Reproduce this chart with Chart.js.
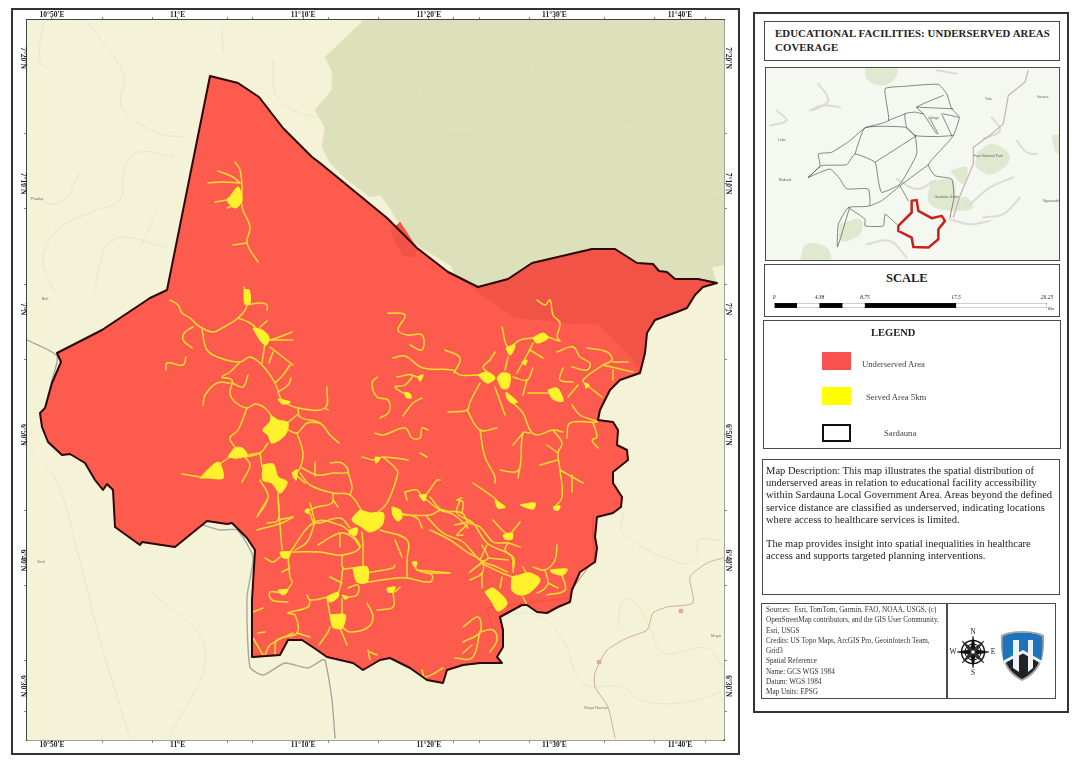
<!DOCTYPE html>
<html lang="en">

<head>
    <meta charset="UTF-8">
    <title>Educational Facilities: Underserved Areas Coverage</title>
    <script src="https://cdn.jsdelivr.net/npm/chart.js"></script>
    <style>
        html, body { margin: 0; padding: 0; background: #fff; }
        body { width: 1080px; height: 763px; position: relative; overflow: hidden; font-family: "Liberation Serif", serif; color: #222; }
        .box { position: absolute; box-sizing: border-box; border: 1.5px solid #4a4a4a; background: #fff; }
        .abs { position: absolute; white-space: nowrap; }
        canvas { position: absolute; }
    </style>
</head>

<body>
    <!-- map frame and side panel -->
    <div class="box" style="left:11px;top:8px;width:729px;height:747px;border:2px solid #333"></div>
    <div class="box" style="left:753px;top:12px;width:316px;height:701px;border:2px solid #333"></div>
    <canvas id="mapa" style="left:0;top:0;width:751px;height:763px"></canvas>

    <div class="box" style="left:764px;top:21px;width:296px;height:40px"></div>
    <div class="abs" style="left:775px;top:27px;font-weight:bold;font-size:10.8px;line-height:13.5px;letter-spacing:.1px">EDUCATIONAL FACILITIES: UNDERSERVED AREAS<br>COVERAGE</div>

    <div class="box" style="left:765px;top:67px;width:295px;height:194px;background:#f5f7f1"></div>
    <canvas id="inset" style="left:766px;top:68px;width:293px;height:192px"></canvas>

    <div class="box" style="left:764px;top:264px;width:296px;height:53px"></div>
    <div class="abs" style="left:886px;top:271px;font-weight:bold;font-size:12.5px">SCALE</div>
    <canvas id="escala" style="left:766px;top:294px;width:292px;height:17px"></canvas>
    <div class="abs" style="left:1048px;top:306px;font-style:italic;font-size:4.5px">Km</div>

    <!-- legend -->
    <div class="box" style="left:763px;top:320px;width:298px;height:129px"></div>
    <div class="abs" style="left:871px;top:327px;font-weight:bold;font-size:10.5px">LEGEND</div>
    <div class="abs" style="left:822px;top:352px;width:29px;height:18px;background:#fb5050"></div>
    <div class="abs" style="left:862px;top:359px;font-size:8.7px;color:#444">Underserved Area</div>
    <div class="abs" style="left:822px;top:387px;width:29px;height:18px;background:#ffff00"></div>
    <div class="abs" style="left:866px;top:392px;font-size:8.7px;color:#444">Served Area 5km</div>
    <div class="abs" style="left:822px;top:424px;width:29px;height:18px;box-sizing:border-box;border:2px solid #111;background:#fff"></div>
    <div class="abs" style="left:884px;top:428px;font-size:8.7px;color:#444">Sardauna</div>

    <!-- description -->
    <div class="box" style="left:762px;top:459px;width:298px;height:136px"></div>
    <div class="abs" style="left:766px;top:465px;font-size:10.55px;line-height:12.2px">Map Description: This map illustrates the spatial distribution of<br>underserved areas in relation to educational facility accessibility<br>within Sardauna Local Government Area. Areas beyond the defined<br>service distance are classified as underserved, indicating locations<br>where access to healthcare services is limited.<br><br>The map provides insight into spatial inequalities in healthcare<br>access and supports targeted planning interventions.</div>

    <!-- sources and logos -->
    <div class="box" style="left:761px;top:603px;width:295px;height:96px"></div>
    <div class="abs" style="left:946px;top:603px;width:1.5px;height:96px;background:#4a4a4a"></div>
    <div class="abs" style="left:766px;top:605px;font-size:7.2px;line-height:10.25px;color:#333">Sources:&nbsp; Esri, TomTom, Garmin, FAO, NOAA, USGS, (c)<br>OpenStreetMap contributors, and the GIS User Community,<br>Esri, USGS<br>Credits: US Topo Maps, ArcGIS Pro, Geoinfotech Team,<br>Grid3<br>Spatial Reference<br>Name: GCS WGS 1984<br>Datum: WGS 1984<br>Map Units: EPSG</div>

    <svg class="abs" style="left:948px;top:626px" width="50" height="52" viewBox="0 0 50 52">
        <g fill="#111" stroke="#111" stroke-width=".5">
            <circle cx="25" cy="26" r="11.500" fill="none" stroke-width="1.4"/>
            <circle cx="25" cy="26" r="8" fill="none" stroke-width="1"/>
            <path d="M25 10L27.500 23.500L41 26L27.500 28.500L25 42L22.500 28.500L9 26L22.500 23.500Z"/>
            <path d="M14 15L25 23L36 15L28 26L36 37L25 29L14 37L22 26Z" fill="#333"/>
            <circle cx="25" cy="26" r="2" fill="#fff"/>
        </g>
        <g font-family="Liberation Serif" font-size="7.5" fill="#222" text-anchor="middle">
            <text x="25" y="8">N</text>
            <text x="25" y="49">S</text>
            <text x="5" y="28">W</text>
            <text x="45" y="28">E</text>
        </g>
    </svg>
    <svg class="abs" style="left:1000px;top:630px" width="45" height="52" viewBox="0 0 45 52">
        <path d="M22 1C30 1 38 2 44 5C45 25 42 42 22 51C3 42 0 25 1 5C7 2 14 1 22 1Z" fill="#9fa6aa"/>
        <path d="M22 3C30 3 37 4 42 7C43 25 40 40 22 49C5 40 2 25 3 7C8 4 15 3 22 3Z" fill="#1f2326"/>
        <path d="M22 3C30 3 37 4 42 7C42.500 15 42 24 41 32L23 22L3.500 32C2.500 24 2.500 15 3 7C8 4 15 3 22 3Z" fill="#1b74bc"/>
        <path d="M23 20L41.500 30.500L41 33.500L23 23.500L4 33.500L3.500 30.500Z" fill="#eef2f4"/>
        <path d="M13 10H19V42L13 38ZM28 10H33V38L28 42Z" fill="#eef2f4"/>
    </svg>

    <script>
        // Positions in a digitising grid, then turned into arc minutes
        const minutosLon = (g) => 50 + (g - 52) / 12.56;   // minutes east of 10 deg E
        const minutosLat = (g) => 80 - (g - 58) / 12.56;   // minutes north of 6 deg N

        // Graticule
        const lonMajor = [50, 60, 70, 80, 90, 100];
        const lonLabels = ["10°50'E", "11°E", "11°10'E", "11°20'E", "11°30'E", "11°40'E"];
        const lonMinor = [54, 58, 64, 66, 72, 76, 82, 84, 88, 94, 98, 102];
        const latMajor = [80, 70, 60, 50, 40, 30];
        const latLabels = ["7°20'N", "7°10'N", "7°N", "6°50'N", "6°40'N", "6°30'N"];
        const latMinor = [74, 68, 62, 56, 44, 38, 32, 28];

        // Sardauna outline
        const sardauna = [210,76, 238,83, 259,97, 283,128, 312,157, 320,163, 387,218, 417,248, 448,272, 478,287, 508,279, 532,263, 592,249, 615,249, 637,263, 653,264, 659,271, 667,272, 675,279, 698,279, 717,283, 703,287, 695,295, 687,308, 677,312, 655,320, 647,333, 645,353, 640,373, 620,380, 610,390, 600,410, 598,420, 613,422, 618,430, 617,445, 627,450, 628,460, 613,472, 613,483, 622,497, 621,507, 613,513, 597,517, 595,537, 597,548, 595,562, 580,572, 572,590, 570,602, 558,607, 547,613, 537,612, 527,605, 522,605, 500,617, 503,630, 503,647, 497,657, 502,663, 480,663, 463,665, 447,670, 443,683, 427,680, 410,668, 390,658, 380,660, 363,670, 353,663, 327,657, 317,650, 302,640, 288,640, 280,655, 253,657, 252,600, 255,550, 247,538, 232,523, 227,524, 207,521, 175,547, 142,542, 140,545, 115,527, 113,490, 107,484, 103,490, 95,480, 85,463, 70,454, 62,455, 48,442, 42,427, 40,413, 45,408, 52,383, 61,362, 57,353, 102,330, 150,298, 167,290];

        // Basemap layers
        const forest = [362,10, 362,22, 325,57, 333,73, 332,90, 315,110, 325,128, 322,147, 330,163, 345,178, 370,197, 380,195, 388,205, 395,217, 417,245, 440,259, 451,266, 455,275, 478,287, 508,279, 532,263, 592,249, 615,249, 637,263, 653,264, 659,271, 667,272, 675,279, 698,279, 717,283, 715,278, 712,267, 723,265, 730,262, 730,10];
        const forestOverlap = [[450,272, 478,287, 508,279, 532,263, 592,249, 615,249, 637,263, 653,264, 659,271, 667,272, 675,279, 698,279, 717,283, 703,287, 695,295, 687,308, 677,312, 655,320, 647,333, 645,353, 640,373, 632,358, 620,345, 597,323, 567,323, 513,317], [390,232, 400,222, 417,248, 414,258, 402,255]];
        const innerEdge = [593,517, 592,530, 595,558, 570,592, 567,598, 527,603, 487,608, 492,627];
        const rivers = [
            [88,23, 123,73, 122,107, 157,133, 183,137], [43,23, 40,60, 50,70], [222,27, 223,53], [273,60, 277,97, 300,113, 317,117],
            [173,157, 140,152, 125,167, 120,200, 97,210, 57,230, 43,260, 55,293], [80,173, 60,203, 30,197], [167,247, 113,240, 93,293], [156,213, 140,247],
            [30,450, 57,483, 77,550, 100,640, 130,738], [623,513, 623,533, 680,563, 697,557, 698,540, 720,540],
            [503,615, 537,615, 563,640, 583,683, 623,687, 640,700, 680,703, 720,693], [618,627, 622,602, 633,600, 650,628, 663,653, 707,648, 723,667],
            [170,738, 205,650, 150,590]
        ];
        const forestRivers = [[540,20, 575,55, 600,110, 650,130, 680,190, 724,200], [530,60, 520,130, 560,170, 565,230], [400,60, 330,110], [440,20, 420,60, 440,130, 480,140, 480,200, 455,240, 420,250]];
        const greyRoads = [[27,340, 57,356, 52,380, 45,408], [203,525, 220,530, 237,530, 253,557, 247,597, 250,667, 263,675, 285,663, 308,668, 322,660, 325,660, 332,700, 335,738]];
        const brownRoad = [615,738, 608,707, 595,687, 595,673, 607,650, 627,638, 647,630, 653,613, 667,607, 693,603, 690,577, 707,563, 723,558];
        const townX = [599, 681];
        const townY = [662, 611];
        const placeNames = ['Patoka', 'Beli', 'Serti', 'Mayo', 'Mayo Ranew'];
        const placeX = [37, 45, 41, 716, 596];
        const placeY = [199, 299, 562, 636, 708];

        // Served Area 5km: built-up patches
        const servedPatches = [
            [230,197, 238,187, 242,200, 235,208, 227,200], [244,290, 249,290, 250,303, 245,304], [253,328, 262,330, 269,338, 266,345, 260,340],
            [278,399, 290,402, 283,404], [271,416, 278,420, 288,423, 285,435, 272,443, 268,435, 263,430, 270,422],
            [228,457, 235,448, 242,448, 247,455, 238,458], [200,478, 218,462, 223,478, 208,478], [263,465, 273,464, 278,477, 287,482, 280,493, 272,483, 263,480],
            [292,473, 297,470, 296,480], [375,457, 380,458, 376,463], [392,507, 400,510, 402,517, 398,521, 393,515], [419,495, 426,495, 424,501],
            [418,377, 423,375, 420,381], [405,392, 410,394, 411,398, 406,397], [478,375, 487,372, 495,378, 487,383], [497,378, 502,373, 510,375, 508,388, 502,388],
            [506,392, 517,402, 512,403, 507,398], [548,390, 557,388, 563,401, 553,399], [533,338, 543,333, 548,338, 537,343], [506,348, 515,345, 510,355],
            [522,362, 527,360, 525,365], [495,500, 505,507, 498,508], [520,505, 535,503, 533,509], [553,507, 560,506, 558,510, 555,510],
            [360,510, 370,513, 383,513, 382,525, 370,532, 362,527, 352,520], [350,530, 357,528, 356,535, 349,533], [280,552, 290,552, 288,558, 282,557], [353,568, 367,567, 367,582, 357,582],
            [330,615, 345,615, 342,628, 333,627], [327,597, 338,592, 338,597, 330,602], [342,595, 348,597, 345,599], [278,590, 288,590, 283,595], [387,588, 395,587, 393,592, 388,592],
            [412,562, 417,562, 415,567], [485,592, 493,588, 507,603, 498,611, 492,602], [512,577, 520,575, 530,573, 540,580, 530,592, 520,595, 512,590],
            [550,570, 567,569, 563,575, 553,573], [503,535, 512,533, 512,539, 505,539], [305,510, 309,509, 308,514], [585,383, 589,385, 586,388]
        ];

        // Served Area 5km: road corridors
        const servedRoads = [
            [235,162, 240,170, 242,187, 242,207, 250,227, 247,243, 258,262], [233,245, 247,243], [208,183, 222,182, 240,183], [218,171, 233,177, 240,183], [215,202, 227,200], [227,208, 235,205],
            [244,287, 247,305, 238,318, 222,328, 213,332, 200,327, 190,318, 182,313, 178,305, 170,300], [247,305, 260,303, 267,305, 267,310], [238,318, 250,323, 260,332],
            [260,327, 267,321], [263,338, 270,340, 292,332], [270,340, 293,340], [265,343, 262,363], [270,347, 293,365], [273,352, 269,363],
            [202,330, 207,350, 220,358, 240,362, 250,357, 262,365, 275,383, 280,397, 283,402], [193,327, 185,332, 183,340, 192,348], [166,370, 167,363, 183,365, 186,357],
            [240,362, 230,372, 222,377, 232,380, 230,393, 235,402, 247,408, 255,404, 265,408, 272,417], [230,383, 217,383, 205,395, 203,405], [232,383, 243,387, 248,375],
            [247,408, 238,430, 230,438, 237,450], [283,402, 298,408, 325,408, 327,387], [325,408, 328,410], [298,408, 300,417, 320,423, 330,435, 339,443], [275,383, 283,375, 290,365], [278,392, 288,385, 291,378],
            [287,423, 297,415], [288,430, 297,433, 307,423, 320,423], [297,433, 303,453, 300,468, 293,477], [268,443, 260,453, 245,457], [245,457, 250,465, 242,482], [260,453, 262,467],
            [182,474, 200,477], [218,465, 230,457], [247,455, 260,453], [260,480, 268,497, 257,517], [278,493, 278,520, 267,523], [278,520, 293,517],
            [302,468, 317,475, 333,473, 348,472, 342,463, 330,463], [300,473, 310,485, 333,493, 350,495, 363,513], [315,462, 315,476], [305,483, 296,475], [348,472, 352,487, 350,495],
            [333,493, 332,503, 317,507, 305,512], [310,513, 315,523, 340,518, 350,528], [362,457, 375,460, 383,457, 408,460], [383,457, 397,470, 397,477, 387,503, 377,513],
            [405,492, 407,500], [405,492, 417,490, 423,497, 437,480, 440,480], [423,497, 440,510, 450,513], [400,513, 417,518, 422,528], [403,515, 430,515, 442,510, 457,517, 468,528],
            [388,313, 405,315, 398,330, 407,335, 422,335, 422,350, 410,345], [393,358, 405,356, 423,368, 452,370, 460,375, 478,375], [445,350, 460,358, 454,373],
            [397,377, 412,375, 405,385, 395,387, 410,397], [420,378, 412,375], [422,398, 413,403, 403,416], [377,377, 372,383, 377,397, 388,400, 389,412, 380,418],
            [375,433, 383,435, 405,428, 412,438, 420,438, 422,428, 428,430], [420,453, 427,457],
            [537,300, 545,305, 550,300, 553,315, 560,323, 557,337, 560,341, 548,337], [533,338, 520,340, 508,347, 502,327], [508,357, 505,370], [490,360, 495,352], [490,360, 483,367, 487,372],
            [533,343, 528,353, 517,373], [530,350, 543,358], [480,383, 470,402, 467,410, 448,412], [467,410, 480,430, 497,428], [480,430, 485,457, 495,477, 495,483], [495,387, 505,415],
            [512,402, 523,413, 530,430, 537,435, 553,430, 563,432], [530,433, 523,433, 520,467, 515,472, 500,470], [520,467, 518,478], [523,433, 513,445], [553,430, 562,443, 558,453, 560,470, 562,497, 555,507],
            [540,465, 558,460], [547,445, 558,453], [560,470, 583,483], [572,475, 572,492], [572,405, 580,415, 597,422, 570,423, 567,438], [593,423, 597,437, 592,440, 598,448],
            [513,377, 527,380, 533,368], [527,380, 523,395], [528,393, 548,393], [557,352, 573,347, 580,357, 590,363, 587,370, 572,367], [587,348, 607,352, 612,360, 603,365, 583,380, 587,385, 602,397],
            [573,382, 560,380, 563,368], [568,397, 578,385], [603,365, 633,372], [613,362, 628,362], [613,380, 613,370], [473,483, 493,497, 498,502],
            [430,497, 442,510, 462,513, 468,522, 480,527, 493,542, 502,543, 508,543, 520,547], [468,522, 455,525], [463,535, 457,535, 468,524], [462,513, 463,502, 457,500, 462,498],
            [493,520, 502,530, 507,534], [520,522, 512,532], [508,543, 505,550, 512,557, 513,568], [482,545, 488,558, 482,562, 470,572], [430,530, 450,540, 467,552, 482,562, 482,573, 470,580], [482,573, 482,588],
            [488,558, 508,560], [483,564, 502,573, 512,577], [502,577, 500,588], [523,597, 527,605], [557,545, 555,560, 545,570, 533,567], [545,570, 548,583, 543,590, 537,593], [548,583, 558,588], [547,595, 565,590, 562,575], [523,567, 527,575], [430,573, 450,573],
            [278,500, 282,550], [257,530, 282,523, 293,517], [267,500, 258,515], [290,552, 315,522, 340,525, 350,532], [315,522, 310,503], [333,500, 338,507], [315,522, 307,542, 295,550],
            [290,552, 320,552, 342,555, 360,547, 350,532], [318,545, 340,533, 352,537, 360,547], [340,533, 340,547], [342,555, 343,568, 353,568], [362,532, 363,547, 363,568], [265,558, 273,562, 280,557],
            [288,557, 290,577, 292,583, 283,592, 270,592, 272,600, 288,602], [282,572, 290,568], [263,608, 253,612], [343,568, 338,593, 327,597, 310,600, 307,595], [310,600, 308,607, 288,613, 295,615, 297,633, 277,640, 275,655],
            [297,633, 310,637], [293,633, 270,645, 265,655], [253,638, 263,655], [258,633, 265,632], [327,598, 330,615], [330,627, 328,632, 319,645], [340,628, 347,645], [343,628, 350,632, 367,628, 373,617, 367,603],
            [342,599, 342,615], [348,597, 357,595, 358,585, 348,588], [367,582, 397,578, 407,578, 430,582, 432,575, 417,570, 415,563], [367,573, 393,568, 395,565], [407,578, 407,560, 407,540, 380,530], [395,540, 402,557],
            [417,570, 450,573], [393,592, 393,607, 377,610], [400,587, 395,592], [368,650, 370,660], [377,655, 370,652], [330,577, 342,583], [422,670, 425,677, 443,668],
            [463,627, 478,617, 480,632, 463,642], [480,632, 472,658, 455,658], [472,645, 463,653], [480,632, 493,630, 497,640, 490,652], [470,572, 483,562], [427,517, 443,533, 463,542, 480,560, 497,567, 507,572], [487,545, 480,560],
            [460,500, 457,513, 473,523, 487,543, 513,557, 513,572]
        ];

        // Locator map, digitised in its own grid
        const insetPatches = [[345,172, 440,172, 430,210, 390,225, 350,205], [680,425, 730,400, 780,440, 730,490, 680,470], [540,510, 610,510, 620,560, 650,560, 670,590, 620,600, 540,580], [150,748, 170,700, 230,710, 240,748], [270,640, 330,625, 330,670, 270,690], [905,375, 928,375, 928,430, 915,420], [600,480, 650,470, 640,520]];
        const insetTerrain = [[180,300, 215,285, 270,290], [205,220, 235,270, 190,300], [60,345, 110,330, 80,300], [700,385, 750,360, 725,320], [800,390, 830,425, 860,430], [440,505, 500,535, 555,510], [650,590, 720,530, 790,500], [700,620, 760,610, 810,560], [350,700, 420,690, 470,740], [600,625, 660,640, 720,630], [560,180, 620,190]];
        const insetLines = [
            [175,500, 240,475, 270,505, 285,530, 295,535, 355,535, 358,585, 295,590, 265,640, 262,708, 272,680, 298,592], [175,500, 215,465, 290,462, 315,430, 375,455, 385,510, 395,545, 450,520, 500,430, 495,375, 470,350, 465,310, 495,305, 520,310, 500,290, 580,255],
            [175,500, 210,465, 205,430, 245,425, 300,390, 345,352, 415,330, 405,235, 460,228, 565,222, 590,250, 605,295, 628,320, 610,375, 580,410, 535,462, 555,495, 605,505, 612,560, 605,595, 600,620],
            [315,430, 345,352, 465,350, 495,375, 560,378, 610,375], [375,455, 500,375], [360,585, 395,570, 450,525, 535,462], [295,590, 345,625, 345,645, 400,645, 405,610, 440,640], [450,525, 475,570],
            [500,290, 610,295], [580,310, 625,320], [520,310, 560,370], [540,325, 565,370], [575,310, 605,375], [465,310, 415,330]
        ];
        const insetBorder = [835,180, 825,215, 775,255, 760,340, 725,370, 670,410, 670,460, 630,555, 610,620];
        const insetArea = [485,570, 500,568, 505,600, 545,622, 575,615, 585,630, 565,655, 565,685, 535,710, 490,708, 485,680, 445,660, 445,645, 485,605];
        const insetNames = ['Lafia', 'Makurdi', 'Jalingo', 'Yola', 'Garoua', 'Faro National Park', 'Gashaka Gumti', 'Ngaoundéré'];
        const insetX = [95, 105, 550, 715, 878, 715, 590, 908];
        const insetY = [388, 507, 324, 267, 259, 437, 560, 572];

        // Scale bar, km per segment
        const scaleTicks = [0, 4.38, 8.75, 17.5, 26.25];
        const scaleSegments = [2.19, 2.19, 2.19, 2.18, 8.75, 8.75];
        const scaleColors = ['#000', '#fff', '#000', '#fff', '#000', '#fff'];

        const COR_VERMELHO = '#fd5b4e';
        const COR_AMARELO = '#fff12b';
        const COR_ESTRADA = '#f8dc2e';

        function pontos(flat) {
            const lista = [];
            for (let i = 0; i < flat.length; i += 2) lista.push({ x: minutosLon(flat[i]), y: minutosLat(flat[i + 1]) });
            return lista;
        }

        function pontosInset(flat) {
            const lista = [];
            for (let i = 0; i < flat.length; i += 2) lista.push({ x: flat[i], y: flat[i + 1] });
            return lista;
        }

        function fechado(flat) {
            return flat.concat(flat.slice(0, 2));
        }

        function linha(data, cor, largura, curva) {
            return { data, showLine: true, pointRadius: 0, borderColor: cor, borderWidth: largura, fill: false, tension: curva || 0, borderJoinStyle: 'round', borderCapStyle: 'round' };
        }

        function area(data, cor, borda, largura, curva) {
            return { data, showLine: true, pointRadius: 0, backgroundColor: cor, borderColor: borda || cor, borderWidth: largura === undefined ? 0.6 : largura, fill: 'shape', tension: curva || 0, borderJoinStyle: 'round' };
        }

        // Chart.js draws lower order on top, so the layers are listed bottom to top
        function empilhar(camadas) {
            camadas.forEach((c, i) => { c.order = camadas.length - i; });
            return camadas;
        }

        const fundoPlugin = {
            id: 'fundo',
            beforeDatasetsDraw(chart, args, opts) {
                const { ctx, chartArea: a } = chart;
                ctx.save();
                ctx.fillStyle = opts.color;
                ctx.fillRect(a.left, a.top, a.width, a.height);
                ctx.restore();
            }
        };

        const nomesPlugin = {
            id: 'nomes',
            afterDatasetsDraw(chart, args, opts) {
                const { ctx, scales } = chart;
                ctx.save();
                ctx.fillStyle = opts.color;
                ctx.font = opts.font;
                ctx.textAlign = 'center';
                ctx.textBaseline = 'middle';
                opts.names.forEach((n, i) => ctx.fillText(n, scales.x.getPixelForValue(opts.xs[i]), scales.y.getPixelForValue(opts.ys[i])));
                ctx.restore();
            }
        };

        const fonteEixo = { family: 'Liberation Serif', size: 7.5, weight: 'bold' };

        function eixo(extra) {
            return Object.assign({
                type: 'linear',
                grid: { drawOnChartArea: false, color: '#555', tickLength: 3, tickWidth: 0.7 },
                border: { display: true, color: '#444', width: 1.5 }
            }, extra);
        }

        function eixoLon(position, altura, folga) {
            return eixo({
                position, min: minutosLon(27), max: minutosLon(724),
                afterBuildTicks: (s) => { s.ticks = lonMajor.concat(lonMinor).sort((a, b) => a - b).map((value) => ({ value })); },
                afterFit: (s) => { s.height = altura; s.paddingLeft = 0; s.paddingRight = 0; },
                ticks: { autoSkip: false, maxRotation: 0, color: '#222', font: fonteEixo, padding: folga, callback: (v) => { const i = lonMajor.indexOf(v); return i < 0 ? '' : lonLabels[i]; } }
            });
        }

        function eixoLat(position, largura) {
            return eixo({
                position, min: minutosLat(740), max: minutosLat(20),
                afterBuildTicks: (s) => { s.ticks = latMajor.concat(latMinor).sort((a, b) => a - b).map((value) => ({ value })); },
                afterFit: (s) => { s.width = largura; s.paddingTop = 0; s.paddingBottom = 0; },
                ticks: { autoSkip: false, minRotation: -90, maxRotation: -90, color: '#222', font: fonteEixo, padding: -10, crossAlign: 'center', callback: (v) => { const i = latMajor.indexOf(v); return i < 0 ? '' : latLabels[i]; } }
            });
        }

        // Main map
        new Chart(document.getElementById('mapa'), {
            type: 'scatter',
            plugins: [fundoPlugin, nomesPlugin],
            data: {
                datasets: empilhar([
                    area(pontos(forest), '#dde1bb'),
                    ...forestRivers.map((r) => linha(pontos(r), '#d8dcbc', 0.8, 0.4)),
                    ...rivers.map((r) => linha(pontos(r), '#e3e6d2', 1, 0.4)),
                    ...greyRoads.map((r) => linha(pontos(r), '#a8a79e', 1.4, 0.2)),
                    linha(pontos(brownRoad), '#cfae96', 1, 0.2),
                    { data: townX.map((x, i) => ({ x: minutosLon(x), y: minutosLat(townY[i]) })), pointStyle: 'rect', pointRadius: 3, backgroundColor: '#e3a3a0', borderWidth: 0 },
                    area(pontos(sardauna), COR_VERMELHO),
                    ...forestOverlap.map((p) => area(pontos(p), '#f25347')),
                    linha(pontos(innerEdge), '#e84a3e', 0.8),
                    ...servedRoads.map((r) => linha(pontos(r), COR_ESTRADA, 1.5, 0.4)),
                    ...servedPatches.map((p) => area(pontos(fechado(p)), COR_AMARELO, COR_AMARELO, 1.2, 0.3)),
                    linha(pontos(fechado(sardauna)), '#2c0806', 2)
                ])
            },
            options: {
                responsive: false,
                animation: false,
                layout: { padding: 0 },
                plugins: {
                    legend: { display: false },
                    tooltip: { enabled: false },
                    fundo: { color: '#f5f3d7' },
                    nomes: { names: placeNames, xs: placeX.map(minutosLon), ys: placeY.map(minutosLat), color: '#777', font: '4px "Liberation Sans"' }
                },
                scales: {
                    x: eixoLon('bottom', 23, -2),
                    x2: eixoLon('top', 20, -3),
                    y: eixoLat('left', 27),
                    y2: eixoLat('right', 27)
                }
            }
        });

        // Locator map
        new Chart(document.getElementById('inset'), {
            type: 'scatter',
            plugins: [nomesPlugin],
            data: {
                datasets: empilhar([
                    ...insetPatches.map((p) => area(pontosInset(fechado(p)), '#dfe9cf', '#dfe9cf', 0, 0.4)),
                    ...insetTerrain.map((l) => linha(pontosInset(l), '#dddcd3', 2, 0.4)),
                    linha(pontosInset(insetBorder), '#c7b3b6', 1.2),
                    ...insetLines.map((l) => linha(pontosInset(l), '#3a3a3a', 0.6, 0.15)),
                    linha(pontosInset(fechado(insetArea)), '#c9201c', 2.5)
                ])
            },
            options: {
                responsive: false,
                animation: false,
                layout: { padding: 0 },
                plugins: {
                    legend: { display: false },
                    tooltip: { enabled: false },
                    nomes: { names: insetNames, xs: insetX, ys: insetY, color: '#666', font: '3.5px "Liberation Sans"' }
                },
                scales: {
                    x: { type: 'linear', display: false, min: 48, max: 927 },
                    y: { type: 'linear', display: false, min: 173, max: 747, reverse: true }
                }
            }
        });

        // Scale bar
        new Chart(document.getElementById('escala'), {
            type: 'bar',
            data: {
                labels: ['Km'],
                datasets: scaleSegments.map((v, i) => ({ data: [v], backgroundColor: scaleColors[i], borderColor: '#000', borderWidth: 0.5, barPercentage: 1, categoryPercentage: 1 }))
            },
            options: {
                indexAxis: 'y',
                responsive: false,
                animation: false,
                layout: { padding: { left: 8, right: 11, top: 0, bottom: 3 } },
                plugins: { legend: { display: false }, tooltip: { enabled: false } },
                scales: {
                    x: {
                        type: 'linear', stacked: true, position: 'top', min: 0, max: 26.25,
                        afterBuildTicks: (s) => { s.ticks = scaleTicks.map((value) => ({ value })); },
                        afterFit: (s) => { s.height = 9; s.paddingLeft = 0; s.paddingRight = 0; },
                        grid: { display: true, drawOnChartArea: false, drawTicks: false, color: 'rgba(0,0,0,0)' },
                        border: { display: false },
                        ticks: { display: true, autoSkip: false, maxRotation: 0, padding: 2, color: '#222', font: { family: 'Liberation Serif', size: 5.5, style: 'italic' }, callback: (v) => String(v) }
                    },
                    y: { stacked: true, display: false }
                }
            }
        });
    </script>
</body>

</html>
